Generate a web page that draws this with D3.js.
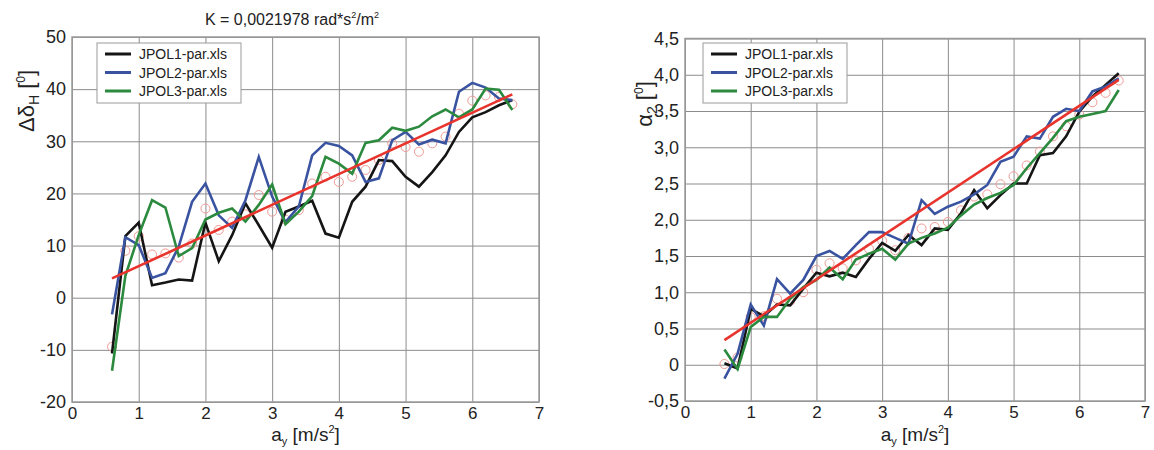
<!DOCTYPE html>
<html>
<head>
<meta charset="utf-8">
<script src="https://cdn.jsdelivr.net/npm/d3@7"></script>
<style>
  body { margin: 0; background: #fff; }
  text { font-family: "Liberation Sans", Arial, sans-serif; fill: #222; }
</style>
</head>
<body>
<svg id="chart" width="1154" height="450"></svg>
<script>
// Lateral acceleration a_y [m/s^2] at which every run was sampled
const ay = [0.6, 0.8, 1.0, 1.2, 1.4, 1.6, 1.8, 2.0, 2.2, 2.4, 2.6, 2.8, 3.0, 3.2, 3.4, 3.6,
            3.8, 4.0, 4.2, 4.4, 4.6, 4.8, 5.0, 5.2, 5.4, 5.6, 5.8, 6.0, 6.2, 6.4, 6.6];

const seriesNames = ["JPOL1-par.xls", "JPOL2-par.xls", "JPOL3-par.xls"];

// Steering wheel angle increment Δδ_H [°]
const dH_jpol1 = [-10.7, 11.8, 14.4, 2.4, 2.9, 3.5, 3.3, 14.4, 7.0, 12.0, 18.1, 13.9, 9.6, 16.5, 17.5, 18.6,
                  12.3, 11.5, 18.4, 21.3, 26.4, 26.2, 23.2, 21.3, 24.1, 27.3, 31.8, 34.6, 35.6, 36.9, 37.9];
const dH_jpol2 = [-3.2, 11.6, 10.1, 3.8, 4.7, 9.8, 18.4, 21.9, 15.8, 13.4, 18.7, 27.0, 19.4, 14.5, 17.5, 27.3,
                  29.7, 29.1, 27.3, 22.2, 22.9, 30.2, 31.8, 29.4, 30.3, 29.6, 39.5, 41.2, 40.3, 38.2, 37.9];
const dH_jpol3 = [-14.0, 4.2, 12.0, 18.7, 17.3, 8.0, 9.5, 15.0, 16.3, 17.1, 14.6, 17.8, 21.7, 14.1, 16.5, 19.5,
                  27.0, 25.7, 23.8, 29.7, 30.2, 32.6, 32.0, 32.8, 34.8, 36.1, 34.6, 36.1, 40.1, 39.9, 36.0];
const dH_mean  = [-9.4, 9.0, 11.8, 8.3, 8.5, 7.7, 10.4, 17.1, 13.0, 14.6, 16.0, 19.7, 16.5, 15.0, 16.8, 21.9,
                  23.2, 22.2, 23.2, 24.5, 26.4, 29.6, 28.9, 28.0, 29.6, 30.9, 35.3, 37.8, 38.8, 38.5, 37.1];
const dH_fitX = [0.6, 6.6];
const dH_fitY = [3.7, 39.0];

// Sideslip-related angle α_2 [°]
const a2_jpol1 = [0.02, -0.05, 0.77, 0.67, 0.83, 0.82, 1.05, 1.27, 1.22, 1.27, 1.21, 1.46, 1.68, 1.57, 1.79, 1.65,
                  1.88, 1.86, 2.09, 2.41, 2.16, 2.34, 2.50, 2.50, 2.89, 2.92, 3.15, 3.49, 3.70, 3.86, 4.02];
const a2_jpol2 = [-0.19, 0.15, 0.83, 0.54, 1.18, 0.98, 1.17, 1.50, 1.57, 1.46, 1.65, 1.83, 1.83, 1.75, 1.67, 2.27,
                  2.08, 2.18, 2.25, 2.35, 2.48, 2.80, 2.87, 3.15, 3.12, 3.42, 3.53, 3.50, 3.77, 3.84, 3.95];
const a2_jpol3 = [0.21, -0.06, 0.52, 0.66, 0.66, 0.91, 1.07, 1.17, 1.34, 1.18, 1.45, 1.53, 1.60, 1.45, 1.67, 1.75,
                  1.81, 1.89, 2.06, 2.21, 2.30, 2.37, 2.48, 2.71, 2.92, 3.13, 3.36, 3.42, 3.46, 3.50, 3.79];
const a2_mean  = [0.01, 0.10, 0.66, 0.67, 0.91, 0.88, 1.00, 1.31, 1.40, 1.33, 1.44, 1.60, 1.71, 1.58, 1.75, 1.88,
                  1.90, 1.97, 2.13, 2.32, 2.35, 2.49, 2.60, 2.75, 2.94, 3.15, 3.29, 3.45, 3.62, 3.75, 3.92];
const a2_fitX = [0.6, 6.6];
const a2_fitY = [0.34, 3.93];

// Axis ticks and their printed labels
const xTicks = [0, 1, 2, 3, 4, 5, 6, 7];
const xTickLabels = ["0", "1", "2", "3", "4", "5", "6", "7"];
const dHTicks = [-20, -10, 0, 10, 20, 30, 40, 50];
const dHTickLabels = ["-20", "-10", "0", "10", "20", "30", "40", "50"];
const a2Ticks = [-0.5, 0, 0.5, 1.0, 1.5, 2.0, 2.5, 3.0, 3.5, 4.0, 4.5];
const a2TickLabels = ["-0,5", "0", "0,5", "1,0", "1,5", "2,0", "2,5", "3,0", "3,5", "4,0", "4,5"];

const lineColors = ["#151515", "#3a53a0", "#2b8a3e"];
const fitColor = "#e8342c";
const meanColor = "#ef9a94";

const svg = d3.select("#chart");

function drawPanel(opt) {
  const g = svg.append("g");
  const x = d3.scaleLinear().domain([0, 7]).range([opt.left, opt.right]);
  const y = d3.scaleLinear().domain(opt.yDomain).range([opt.bottom, opt.top]);
  const w = opt.right - opt.left, h = opt.bottom - opt.top;

  // grid + tick labels
  const xAxis = g.append("g").attr("transform", `translate(0,${opt.bottom})`)
    .call(d3.axisBottom(x).tickValues(xTicks).tickFormat((d, i) => xTickLabels[i])
      .tickSize(-h).tickPadding(5));
  const yAxis = g.append("g").attr("transform", `translate(${opt.left},0)`)
    .call(d3.axisLeft(y).tickValues(opt.yTicks).tickFormat((d, i) => opt.yTickLabels[i])
      .tickSize(-w).tickPadding(6));
  [xAxis, yAxis].forEach(a => {
    a.select(".domain").remove();
    a.selectAll("line").attr("stroke", "#8c8c8c").attr("stroke-width", 1);
    a.selectAll("text").attr("font-size", 18).attr("fill", "#222")
      .style("font-family", '"Liberation Sans", Arial, sans-serif');
  });
  xAxis.selectAll("text").attr("font-size", 17);

  g.append("rect").attr("x", opt.left).attr("y", opt.top).attr("width", w).attr("height", h)
    .attr("fill", "none").attr("stroke", "#9a9a9a").attr("stroke-width", 1.5);

  // mean points (hollow circles)
  g.append("g").selectAll("circle").data(ay.map((v, i) => [v, opt.mean[i]])).join("circle")
    .attr("cx", d => x(d[0])).attr("cy", d => y(d[1])).attr("r", 4.5)
    .attr("fill", "none").attr("stroke", meanColor).attr("stroke-width", 1);

  // measured runs
  const line = d3.line().x(d => x(d[0])).y(d => y(d[1]));
  opt.series.forEach((s, k) => {
    g.append("path").datum(ay.map((v, i) => [v, s[i]]))
      .attr("d", line).attr("fill", "none").attr("stroke", lineColors[k])
      .attr("stroke-width", 2.6).attr("stroke-linejoin", "miter");
  });

  // linear fit
  g.append("path").datum(opt.fitX.map((v, i) => [v, opt.fitY[i]]))
    .attr("d", line).attr("fill", "none").attr("stroke", fitColor).attr("stroke-width", 2.6);

  // legend
  const lg = g.append("g").attr("transform", `translate(${opt.legend[0]},${opt.legend[1]})`);
  lg.append("rect").attr("width", 144).attr("height", 60)
    .attr("fill", "#fff").attr("stroke", "#9a9a9a").attr("stroke-width", 1);
  seriesNames.forEach((name, k) => {
    const yy = 11 + k * 18.5;
    lg.append("line").attr("x1", 8).attr("x2", 34).attr("y1", yy).attr("y2", yy)
      .attr("stroke", lineColors[k]).attr("stroke-width", 3);
    lg.append("text").attr("x", 42).attr("y", yy + 5).attr("font-size", 14).text(name);
  });

  // x axis title: a_y [m/s^2]
  const xt = g.append("text").attr("x", (opt.left + opt.right) / 2).attr("y", 441)
    .attr("text-anchor", "middle").attr("font-size", 19);
  xt.append("tspan").text("a");
  xt.append("tspan").attr("font-size", 11).attr("dy", 4).text("y");
  xt.append("tspan").attr("dy", -4).text(" [m/s");
  xt.append("tspan").attr("font-size", 11).attr("dy", -8).text("2");
  xt.append("tspan").attr("dy", 8).text("]");

  return g;
}

drawPanel({
  left: 72, right: 539, top: 37, bottom: 402,
  yDomain: [-20, 50], yTicks: dHTicks, yTickLabels: dHTickLabels,
  series: [dH_jpol1, dH_jpol2, dH_jpol3], mean: dH_mean, fitX: dH_fitX, fitY: dH_fitY,
  legend: [97, 43]
});

drawPanel({
  left: 685, right: 1145, top: 38.5, bottom: 401,
  yDomain: [-0.5, 4.5], yTicks: a2Ticks, yTickLabels: a2TickLabels,
  series: [a2_jpol1, a2_jpol2, a2_jpol3], mean: a2_mean, fitX: a2_fitX, fitY: a2_fitY,
  legend: [703, 43]
});

// title above the left panel
const title = svg.append("text").attr("x", 292).attr("y", 25)
  .attr("text-anchor", "middle").attr("font-size", 16);
title.append("tspan").text("K = 0,0021978 rad*s");
title.append("tspan").attr("font-size", 9).attr("dy", -7).text("2");
title.append("tspan").attr("dy", 7).text("/m");
title.append("tspan").attr("font-size", 9).attr("dy", -7).text("2");

// y axis titles
const yl = svg.append("text").attr("transform", "translate(34,101) rotate(-90)")
  .attr("text-anchor", "middle").attr("font-size", 22);
yl.append("tspan").text("Δδ");
yl.append("tspan").attr("font-size", 14).attr("dy", 5).text("H");
yl.append("tspan").attr("dy", -5).text(" [");
yl.append("tspan").attr("font-size", 12).attr("dy", -9).text("0");
yl.append("tspan").attr("dy", 9).text("]");

const yr = svg.append("text").attr("transform", "translate(652,104) rotate(-90)")
  .attr("text-anchor", "middle").attr("font-size", 22);
yr.append("tspan").text("α");
yr.append("tspan").attr("font-size", 14).attr("dy", 5).text("2");
yr.append("tspan").attr("dy", -5).text(" [");
yr.append("tspan").attr("font-size", 12).attr("dy", -9).text("0");
yr.append("tspan").attr("dy", 9).text("]");
</script>
</body>
</html>
